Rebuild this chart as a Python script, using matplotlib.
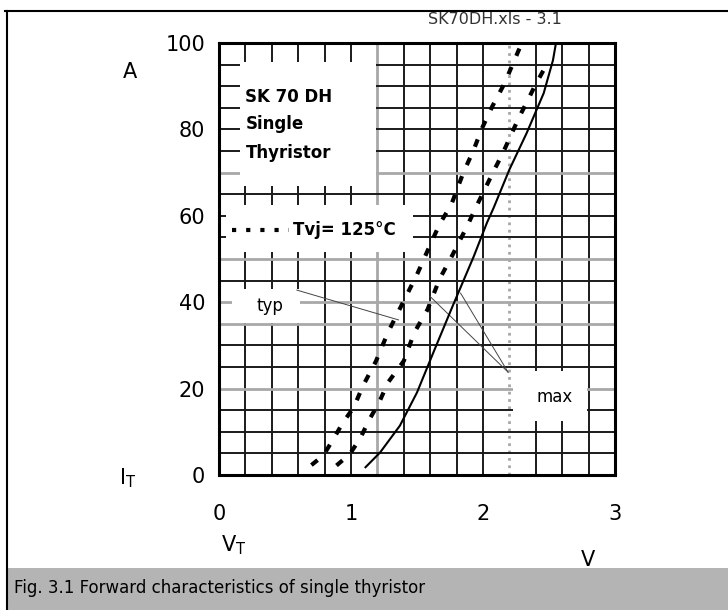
import matplotlib
matplotlib.use('Agg')
import matplotlib.pyplot as plt
from matplotlib.patches import Rectangle
from matplotlib.lines import Line2D
import numpy as np

# curve data (V_T in V, I_T in A)
typ_v = [0.70, 0.79, 0.87, 0.94, 1.02, 1.09, 1.19, 1.28, 1.38, 1.50, 1.59, 1.67, 1.76,
         1.85, 1.93, 1.99, 2.07, 2.15, 2.19, 2.28]
typ_i = [2.3, 4.5, 8.5, 12.2, 15.6, 20.6, 26.4, 33.0, 39.1, 46.4, 52.6, 58.0, 62.6,
         69.9, 75.3, 80.1, 85.3, 89.9, 92.6, 99.0]

max_v = [0.89, 0.99, 1.07, 1.14, 1.21, 1.28, 1.40, 1.48, 1.58, 1.67, 1.77, 1.88, 1.95,
         2.00, 2.08, 2.15, 2.19, 2.27, 2.34, 2.39, 2.48]
max_i = [2.2, 4.8, 8.5, 12.9, 16.6, 21.4, 26.4, 33.0, 38.3, 45.3, 51.0, 57.6, 62.2,
         65.3, 70.3, 74.5, 77.2, 82.6, 86.8, 89.9, 94.9]

solid_v = [1.11, 1.22, 1.37, 1.50, 1.63, 1.77, 1.93, 2.03, 2.08, 2.20, 2.33, 2.46, 2.53, 2.55]
solid_i = [1.8, 5.2, 11.4, 19.1, 28.8, 39.1, 50.6, 58.4, 61.8, 70.7, 79.1, 88.4, 96.0, 99.5]

x_ticks = [0, 1, 2, 3]
y_ticks = [0, 20, 40, 60, 80, 100]

W, H = 728, 610
fig = plt.figure(figsize=(W / 100, H / 100), dpi=100)
ax = fig.add_axes([219 / W, 1 - 475 / H, (615 - 219) / W, (475 - 43) / H])
ax.set_xlim(0, 3)
ax.set_ylim(0, 100)

# grid every 0.2 V and 5 A, a few lines lighter as in the scan
gray_v = [1.2, 2.2]
gray_i = [20, 35, 40, 50, 70]
for v in np.arange(0.2, 3.0, 0.2):
    if any(abs(v - g) < 1e-6 for g in gray_v):
        ax.axvline(v, color='#a8a8a8', lw=2, zorder=1,
                   ls=':' if abs(v - 2.2) < 1e-6 else '-')
    else:
        ax.axvline(v, color='#1a1a1a', lw=1.4, zorder=1)
for i in range(5, 100, 5):
    if i in gray_i:
        ax.axhline(i, color='#a8a8a8', lw=2, zorder=1)
    else:
        ax.axhline(i, color='#1a1a1a', lw=1.4, zorder=1)

# white label boxes cut out of the grid
boxes = [(0.16, 67, 1.19, 95.5), (0.05, 51.7, 1.47, 62.6),
         (0.10, 35.3, 0.61, 43), (2.23, 12.5, 2.79, 24)]
for x0, y0, x1, y1 in boxes:
    ax.add_patch(Rectangle((x0, y0), x1 - x0, y1 - y0, facecolor='white',
                           edgecolor='none', zorder=2))

# leader lines
ax.plot([0.59, 1.36], [42.8, 35.9], color='#444444', lw=0.7, zorder=3)
ax.plot([1.60, 2.19], [41.3, 23.8], color='#444444', lw=0.7, zorder=3)
ax.plot([1.83, 2.19], [42.1, 23.8], color='#444444', lw=0.7, zorder=3)

# curves
ax.plot(typ_v, typ_i, color='black', lw=3, ls=(0, (1.9, 2.9)),
        dash_capstyle='butt', zorder=4)
ax.plot(max_v, max_i, color='black', lw=3, ls=(0, (1.9, 2.9)),
        dash_capstyle='butt', zorder=4)
ax.plot(solid_v, solid_i, color='black', lw=1.5, zorder=4)

# legend sample inside box
ax.plot([0.10, 0.53], [56.7, 56.7], color='black', lw=3, ls=(0, (1, 2.4)),
        dash_capstyle='butt', zorder=4)
ax.text(0.56, 56.7, 'Tvj= 125°C', fontsize=12, fontweight='bold', va='center', zorder=5)

ax.text(0.20, 87.5, 'SK 70 DH', fontsize=12, fontweight='bold', va='center', zorder=5)
ax.text(0.20, 81.3, 'Single', fontsize=12, fontweight='bold', va='center', zorder=5)
ax.text(0.20, 74.6, 'Thyristor', fontsize=12, fontweight='bold', va='center', zorder=5)
ax.text(0.386, 39.2, 'typ', fontsize=12, ha='center', va='center', zorder=5)
ax.text(2.545, 18.0, 'max', fontsize=12, ha='center', va='center', zorder=5)

ax.set_xticks(x_ticks)
ax.set_yticks(y_ticks)
ax.tick_params(length=0, labelsize=15)
ax.tick_params(axis='y', pad=10)
ax.tick_params(axis='x', pad=21)
for s in ax.spines.values():
    s.set_linewidth(2.2)
    s.set_zorder(6)


def ftext(x, y, s, **kw):
    fig.text(x / W, 1 - y / H, s, **kw)


ftext(130, 72, 'A', fontsize=15, ha='center', va='center')
ftext(119, 478, r'$\mathregular{I_T}$', fontsize=15, ha='left', va='center')
ftext(221, 545, r'$\mathregular{V_T}$', fontsize=15, ha='left', va='center')
ftext(588, 560, 'V', fontsize=15, ha='center', va='center')
ftext(428, 19, 'SK70DH.xls - 3.1', fontsize=11.5, color='#333333', ha='left', va='center')

# outer frame and caption band
fig.add_artist(Line2D([5 / W, 1], [1 - 11 / H, 1 - 11 / H], color='black', lw=1.5))
fig.add_artist(Line2D([7 / W, 7 / W], [0, 1 - 11 / H], color='black', lw=1.5))
fig.add_artist(Rectangle((8 / W, 0), 1 - 8 / W, 42 / H, facecolor='#b4b4b4',
                         edgecolor='none', transform=fig.transFigure))
ftext(14, 588, 'Fig. 3.1 Forward characteristics of single thyristor', fontsize=12,
      ha='left', va='center')

fig.savefig('out.png', dpi=100)
